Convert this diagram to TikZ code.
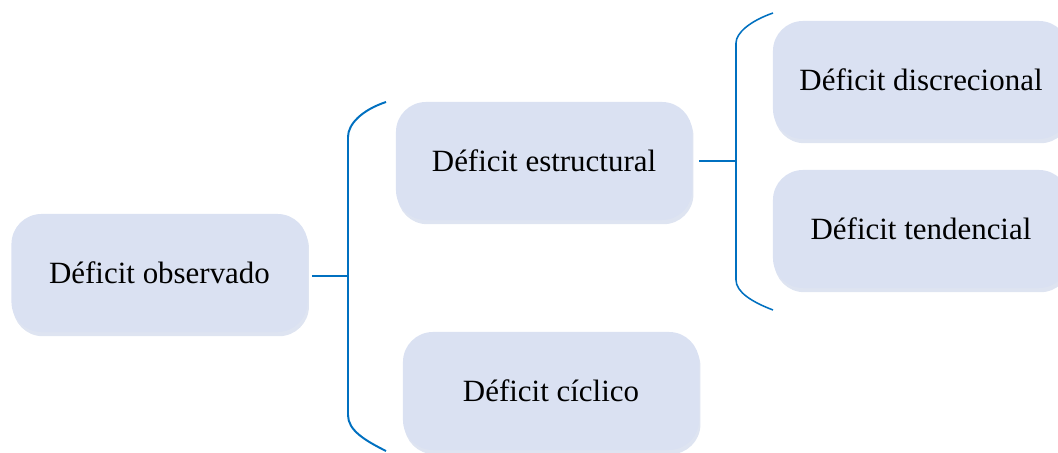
\documentclass[tikz,border=0pt]{standalone}
\usepackage{fontspec}
\setmainfont{Liberation Serif}[Ligatures=CommonOff]
\usetikzlibrary{shadows}
\definecolor{boxfill}{RGB}{218,225,242}
\definecolor{linkblue}{RGB}{0,112,192}
\definecolor{shadefill}{RGB}{200,210,232}
\begin{document}
\begin{tikzpicture}[x=0.025cm, y=-0.025cm,
        box/.style={fill=boxfill, rounded corners=0.75cm, minimum width=7.4cm,
          minimum height=2.95cm, inner sep=0pt,
          font=\fontsize{22}{26}\selectfont,
          drop shadow={shadow xshift=1pt, shadow yshift=-3pt, fill=shadefill, opacity=0.6}},
        link/.style={draw=linkblue, line width=1.4pt}]
        \useasboundingbox (0,0) rectangle (1058,453);
        \begin{scope}
        \clip (0,0) rectangle (1058,453);
        \node[box] (obs) at (159.5,273) {Déficit observado};
        \node[box] (estr) at (544,161) {Déficit estructural};
        \node[box] (cicl) at (551,391) {Déficit cíclico};
        \node[box] (disc) at (921,80) {Déficit discrecional};
        \node[box] (tend) at (921,229) {Déficit tendencial};
        \end{scope}
        % first bracket
        \coordinate (b1) at (348,276);
        \coordinate (b1top) at (386,102);
        \coordinate (b1bot) at (386,451);
        \draw[link] (b1top) .. controls (362,110) and (348,124) .. (348,137)
          -- (348,415) .. controls (348,430) and (364,440) .. (b1bot);
        \draw[link] (obs.east |- b1) ++(4,0) -- (b1);
        % second bracket
        \coordinate (b2) at (736,161);
        \coordinate (b2top) at (773,13);
        \coordinate (b2bot) at (773,310);
        \draw[link, line width=1.1pt] (b2top) .. controls (750,21) and (736,33) .. (736,43)
          -- (736,280) .. controls (736,292) and (752,302) .. (b2bot);
        \draw[link] (estr.east |- b2) ++(7,0) -- (b2);
\end{tikzpicture}
\end{document}
